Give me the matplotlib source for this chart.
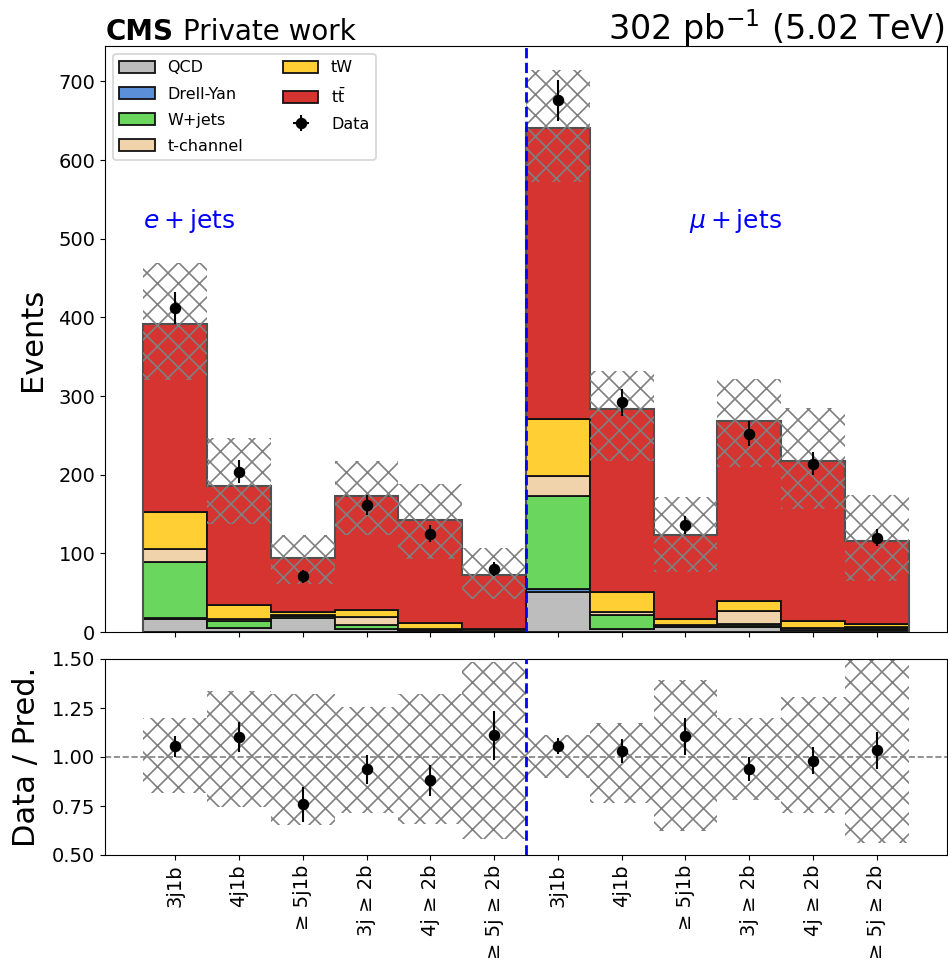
import numpy as np
import matplotlib.pyplot as plt

# event categories, e+jets first then mu+jets
categories = ["3j1b", "4j1b", "≥ 5j1b", "3j ≥ 2b", "4j ≥ 2b", "≥ 5j ≥ 2b"]
tick_labels = categories + categories

# expected yields per category
qcd = [17, 5, 18, 3.5, 1, 0.5, 51, 3.5, 6, 6, 2, 3]
drellyan = [1, 0.5, 0.3, 0.8, 0.3, 0.1, 4.3, 0.5, 0.5, 1.5, 0.3, 0.5]
wjets = [71, 9, 1.5, 5, 1, 0.5, 118, 17, 1, 3, 0.7, 1]
tchannel = [16, 2.5, 1.5, 9.5, 2, 0.5, 24.5, 5, 1.5, 16, 1.5, 1.5]
tw = [48, 17.5, 3.5, 9.5, 7.7, 1.8, 73, 25, 8, 13, 9.5, 4.7]
ttbar = [238, 150.5, 68.8, 144.7, 130, 68.6, 370.2, 232, 106, 229, 204, 105.3]

# relative uncertainty on the prediction (up / down)
unc_up = [0.20, 0.336, 0.323, 0.256, 0.323, 0.485, 0.114, 0.171, 0.393, 0.20, 0.308, 0.499]
unc_dn = [0.182, 0.256, 0.347, 0.284, 0.342, 0.42, 0.108, 0.233, 0.378, 0.219, 0.284, 0.438]

data = [412, 204, 71, 162, 125, 80, 676, 292, 136, 252, 214, 120]

processes = [
    (qcd, "#bdbdbd", "QCD"),
    (drellyan, "#5b90d8", "Drell-Yan"),
    (wjets, "#6bd65d", "W+jets"),
    (tchannel, "#f0d3aa", "t-channel"),
    (tw, "#ffcf33", "tW"),
    (ttbar, "#d63431", r"$\mathrm{t\bar{t}}$"),
]

# hatch spacing follows the dpi, so render at 126 and scale point sizes down
DPI = 126
K = 100 / DPI
plt.rcParams.update({
    "axes.linewidth": 0.8 * K,
    "xtick.major.size": 3.5 * K, "ytick.major.size": 3.5 * K,
    "xtick.major.width": 0.8 * K, "ytick.major.width": 0.8 * K,
    "xtick.major.pad": 3.5 * K, "ytick.major.pad": 3.5 * K,
    "hatch.linewidth": 0.95,
    "legend.edgecolor": "0.8",
})

nbins = len(tick_labels)
edges = np.arange(nbins + 1) - 0.5
centers = np.arange(nbins)
up = np.array(unc_up)
dn = np.array(unc_dn)
obs = np.array(data, dtype=float)

fig = plt.figure(figsize=(948 / DPI, 962 / DPI), dpi=DPI)
ax = fig.add_axes([105 / 948, 330 / 962, 842 / 948, 586 / 962])
rax = fig.add_axes([105 / 948, 107 / 962, 842 / 948, 196 / 962], sharex=ax)

# stacked backgrounds
handles = []
bottom = np.zeros(nbins)
for vals, color, label in processes:
    top = bottom + np.array(vals)
    h = ax.stairs(top, edges, baseline=bottom, fill=True, facecolor=color,
                  edgecolor="#111111", lw=1.3 * K, label=label)
    handles.append(h)
    bottom = top
total = bottom
ax.stairs(total, edges, baseline=0, color="#505050", lw=1.5 * K)

# prediction uncertainty
ax.bar(centers, total * (up + dn), width=1, bottom=total * (1 - dn), fill=False,
       hatch="xx", edgecolor="gray", lw=0, zorder=3)

err = ax.errorbar(centers, obs, yerr=np.sqrt(obs), xerr=0, fmt="o", color="k",
                  ms=7 * K, elinewidth=1.5 * K, capsize=0, label="Data", zorder=5)
handles.append(err)

ax.axvline(5.5, color="blue", ls="--", lw=2 * K, zorder=6)
ax.text(0.22, 523, r"$e + \mathrm{jets}$", color="blue", fontsize=18 * K, ha="center", va="center")
ax.text(8.78, 523, r"$\mu + \mathrm{jets}$", color="blue", fontsize=18 * K, ha="center", va="center")

ax.set_ylim(0, 745)
ax.set_yticks(np.arange(0, 701, 100))
ax.set_ylabel("Events", fontsize=22 * K, labelpad=8 * K)
ax.tick_params(labelsize=14 * K, labelbottom=False)
ax.legend(handles=handles, ncol=2, loc="upper left", fontsize=11.5 * K,
          handlelength=2.2, handleheight=0.8, labelspacing=0.7, columnspacing=2.5)

ax.text(0.001, 1.011, "CMS", transform=ax.transAxes, fontsize=20 * K, fontweight="bold", va="baseline")
ax.text(0.093, 1.011, "Private work", transform=ax.transAxes, fontsize=20 * K, va="baseline")
ax.text(0.998, 1.011, r"302 pb$^{-1}$ (5.02 TeV)", transform=ax.transAxes, fontsize=24 * K,
        ha="right", va="baseline")

# ratio panel
rax.bar(centers, up + dn, width=1, bottom=1 - dn, fill=False, hatch="xx",
        edgecolor="gray", lw=0)
rax.axhline(1.0, color="gray", ls="--", lw=1.2 * K)
rax.errorbar(centers, obs / total, yerr=np.sqrt(obs) / total, fmt="o", color="k",
             ms=7 * K, elinewidth=1.5 * K, capsize=0, zorder=5)
rax.axvline(5.5, color="blue", ls="--", lw=2 * K, zorder=6)
rax.set_ylim(0.5, 1.5)
rax.set_yticks([0.5, 0.75, 1.0, 1.25, 1.5])
rax.set_yticklabels(["0.50", "0.75", "1.00", "1.25", "1.50"])
rax.set_xticks(centers)
rax.set_xticklabels(tick_labels, rotation=90)
rax.set_xlim(edges[0] - 0.6, edges[-1] + 0.6)
rax.tick_params(labelsize=14 * K)
rax.set_ylabel("Data / Pred.", fontsize=22 * K, labelpad=8 * K)

fig.savefig("out.png", dpi=DPI)
